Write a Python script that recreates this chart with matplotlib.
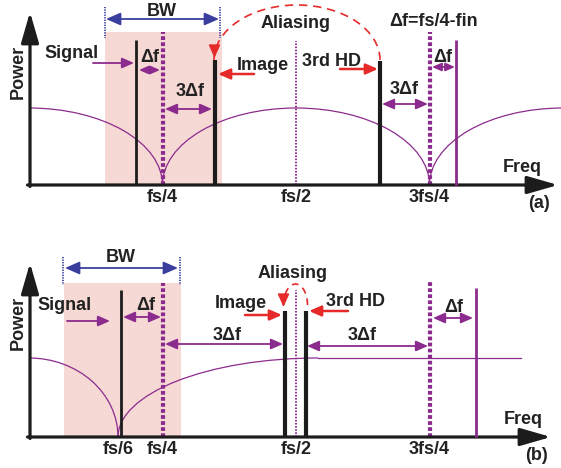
import matplotlib
matplotlib.use('Agg')
import matplotlib.pyplot as plt
from matplotlib.patches import Arc, Rectangle

plt.rcParams['font.family'] = ['Liberation Sans', 'DejaVu Sans']

PURPLE = '#8c2b8e'
BLACK = '#1c1c1c'
RED = '#e62a2a'
BLUE = '#3a3f9e'
PINK = '#f6d8d4'
TXT = '#222222'

# ---------------- data (frequency in units of fs, power normalised to lobe peak)
# panel (a)
a_tick_labels = ['fs/4', 'fs/2', '3fs/4']
a_tick_pos = [0.25, 0.5, 0.75]
a_ref_heights = [1.99, 1.87, 1.99]          # dotted markers at the ticks
a_ref_thick = [True, False, True]
a_tone_names = ['Signal', 'Image', '3rd HD', 'fin']
a_tone_f = [0.20, 0.348, 0.657, 0.80]
a_tone_p = [1.88, 1.62, 1.61, 1.88]
a_band = [0.142, 0.361]
a_band_top = 1.99
a_lobe_centers = [0.0, 0.5, 1.0]
a_lobe_halfwidths = [0.25, 0.25, 0.25]
a_lobe_angles = [(0, 90), (0, 180), (90, 180)]

# panel (b)
b_tick_labels = ['fs/6', 'fs/4', 'fs/2', '3fs/4']
b_tick_pos = [1 / 6, 0.25, 0.5, 0.75]
b_ref_pos = [0.25, 0.5, 0.75]
b_ref_heights = [1.95, 1.86, 1.99]
b_ref_thick = [True, False, True]
b_tone_names = ['Signal', 'Image', '3rd HD', 'fin']
b_tone_f = [0.172, 0.479, 0.519, 0.837]
b_tone_p = [1.86, 1.59, 1.59, 1.89]
b_band = [0.0655, 0.285]
b_band_top = 1.95
b_lobe_centers = [0.0, 0.5417]
b_lobe_halfwidths = [1 / 6, 0.375]
b_lobe_angles = [(0, 90), (90, 180)]
b_flat = [0.5417, 0.921]

# ---------------- layout helpers (pixel -> data)
W, H = 561, 468


def fx(px):
    return (px - 29) / 534


def hA(py):
    return (185 - py) / 77


def hB(py):
    return (437 - py) / 79


fig = plt.figure(figsize=(W / 100, H / 100), dpi=100)
axA = fig.add_axes([0, 1 - 230 / H, 1, 230 / H])
axB = fig.add_axes([0, 0, 1, 238 / H])
for ax, (lo, hi) in [(axA, (hA(230), hA(0))), (axB, (hB(468), hB(230)))]:
    ax.set_xlim(fx(0), fx(W))
    ax.set_ylim(lo, hi)
    ax.axis('off')

FS = 13
tkw = dict(fontsize=FS, fontweight='bold', color=TXT, ha='center', va='center')


def txt(ax, h, px, py, s, **kw):
    d = dict(tkw)
    d.update(kw)
    ax.text(fx(px), h(py), s, **d)


def arrow(ax, h, x0, x1, py, color, style='<|-|>', lw=1.3, ms=9):
    ax.annotate('', xy=(fx(x1), h(py)), xytext=(fx(x0), h(py)),
                arrowprops=dict(arrowstyle=style + ',head_length=0.8,head_width=0.35',
                                color=color, lw=lw, mutation_scale=ms,
                                shrinkA=0, shrinkB=0))


def axes_arrows(ax, h, xtip_px, ytip_py, base_py):
    style = '-|>,head_length=1.25,head_width=0.36'
    ax.annotate('', xy=(fx(xtip_px), 0), xytext=(fx(27.5), 0),
                arrowprops=dict(arrowstyle=style, color=BLACK, lw=2.3,
                                mutation_scale=15, shrinkA=0, shrinkB=0))
    ax.annotate('', xy=(fx(30), h(ytip_py)), xytext=(fx(30), h(base_py + 1.5)),
                arrowprops=dict(arrowstyle=style, color=BLACK, lw=2.3,
                                mutation_scale=15, shrinkA=0, shrinkB=0))


def draw_panel(ax, h, band, band_top, ref_pos, ref_h, ref_thick, tone_f, tone_p,
               centers, halfw, angles):
    ax.add_patch(Rectangle((band[0], 0), band[1] - band[0], band_top,
                           facecolor=PINK, edgecolor='none', zorder=0))
    for c, hw, (t1, t2) in zip(centers, halfw, angles):
        ax.add_patch(Arc((c, 0), 2 * hw, 2.0, theta1=t1, theta2=t2,
                         color=PURPLE, lw=0.9, zorder=2))
    for f, p, thick in zip(ref_pos, ref_h, ref_thick):
        if thick:
            ax.plot([f, f], [0, p], color=PURPLE, lw=3.0,
                    linestyle=(0, (0.9, 0.55)), zorder=3)
        else:
            ax.plot([f, f], [0, p], color=PURPLE, lw=1.4,
                    linestyle=(0, (0.8, 0.8)), zorder=3)
    lws = [2.0, 3.0, 3.0, 2.0]
    cols = [BLACK, BLACK, BLACK, PURPLE]
    for f, p, lw, c in zip(tone_f, tone_p, lws, cols):
        ax.plot([f, f], [0, p], color=c, lw=lw, solid_capstyle='butt', zorder=4)


# ---------------- panel (a)
draw_panel(axA, hA, a_band, a_band_top, a_tick_pos, a_ref_heights, a_ref_thick,
           a_tone_f, a_tone_p, a_lobe_centers, a_lobe_halfwidths, a_lobe_angles)
axes_arrows(axA, hA, 558, 12, 185)
for lab, f in zip(a_tick_labels, a_tick_pos):
    axA.text(f, hA(197), lab, **tkw)

# BW
for px in (104.5, 220):
    axA.plot([fx(px), fx(px)], [hA(7), hA(38)], color=BLUE, lw=1.3,
             linestyle=(0, (0.7, 0.7)), zorder=3)
arrow(axA, hA, 106, 219, 19, BLUE, ms=11, lw=1.3)
txt(axA, hA, 162, 11, 'BW')

txt(axA, hA, 72, 53, 'Signal')
arrow(axA, hA, 93, 134, 63, PURPLE, style='-|>')
txt(axA, hA, 150, 57, '\u0394f')
arrow(axA, hA, 139, 160, 70, PURPLE, ms=7)
txt(axA, hA, 190, 91, '3\u0394f')
arrow(axA, hA, 165, 212, 109, PURPLE)
txt(axA, hA, 263, 65, 'Image')
arrow(axA, hA, 254, 218, 74, RED, style='-|>', lw=1.8)
txt(axA, hA, 296, 23, 'Aliasing')
# aliasing dashed arc from 3rd HD to image
axA.add_patch(Arc((fx(297), hA(60)), 2 * 83 / 534, 2 * 55 / 77, theta1=0, theta2=180,
                  color=RED, lw=1.2, linestyle=(0, (5, 3.5)), zorder=4))
axA.annotate('', xy=(fx(214.5), hA(58)), xytext=(fx(214.5), hA(52)),
             arrowprops=dict(arrowstyle='-|>,head_length=0.9,head_width=0.4',
                             color=RED, lw=1.0, mutation_scale=9, shrinkA=0, shrinkB=0))
txt(axA, hA, 331, 62, '3rd HD')
arrow(axA, hA, 340, 378, 69, RED, style='-|>', lw=1.8)
txt(axA, hA, 434, 22, '\u0394f=fs/4-fin')
txt(axA, hA, 404, 90, '3\u0394f')
arrow(axA, hA, 382, 428, 104, PURPLE)
txt(axA, hA, 443, 57, '\u0394f')
arrow(axA, hA, 432, 455, 67, PURPLE, ms=7)
txt(axA, hA, 522, 168, 'Freq')
txt(axA, hA, 539, 204, '(a)')
txt(axA, hA, 18, 72, 'Power', rotation=90)

# ---------------- panel (b)
draw_panel(axB, hB, b_band, b_band_top, b_ref_pos, b_ref_heights, b_ref_thick,
           b_tone_f, b_tone_p, b_lobe_centers, b_lobe_halfwidths, b_lobe_angles)
axB.plot(b_flat, [1.0, 1.0], color=PURPLE, lw=0.9, zorder=2)
axes_arrows(axB, hB, 551, 263, 437)
for lab, f in zip(b_tick_labels, b_tick_pos):
    axB.text(f, hB(450), lab, **tkw)

for px in (63, 180):
    axB.plot([fx(px), fx(px)], [hB(257), hB(285)], color=BLUE, lw=1.3,
             linestyle=(0, (0.7, 0.7)), zorder=3)
arrow(axB, hB, 65, 178, 268, BLUE, ms=11, lw=1.3)
txt(axB, hB, 121, 257, 'BW')

txt(axB, hB, 65, 305, 'Signal')
arrow(axB, hB, 67, 110, 321, PURPLE, style='-|>')
txt(axB, hB, 146, 306, '\u0394f')
arrow(axB, hB, 123, 161, 317, PURPLE)
txt(axB, hB, 227, 335, '3\u0394f')
arrow(axB, hB, 165, 283, 344, PURPLE)
txt(axB, hB, 241, 304, 'Image')
arrow(axB, hB, 245, 282, 315, RED, style='-|>', lw=1.8)
txt(axB, hB, 293, 273, 'Aliasing')
axB.add_patch(Arc((fx(295.5), hB(305)), 2 * 12 / 534, 2 * 21 / 79, theta1=0, theta2=180,
                  color=RED, lw=1.2, linestyle=(0, (4, 3)), zorder=4))
axB.annotate('', xy=(fx(283.5), hB(307)), xytext=(fx(283.5), hB(300)),
             arrowprops=dict(arrowstyle='-|>,head_length=0.9,head_width=0.4',
                             color=RED, lw=1.0, mutation_scale=9, shrinkA=0, shrinkB=0))
txt(axB, hB, 356, 302, '3rd HD')
arrow(axB, hB, 348, 309, 311, RED, style='-|>', lw=1.8)
txt(axB, hB, 362, 336, '3\u0394f')
arrow(axB, hB, 307, 428, 346, PURPLE)
txt(axB, hB, 454, 307, '\u0394f')
arrow(axB, hB, 433, 473, 318, PURPLE)
txt(axB, hB, 523, 420, 'Freq')
txt(axB, hB, 536, 455, '(b)')
txt(axB, hB, 18, 323, 'Power', rotation=90)

fig.savefig('out.png', dpi=100)
